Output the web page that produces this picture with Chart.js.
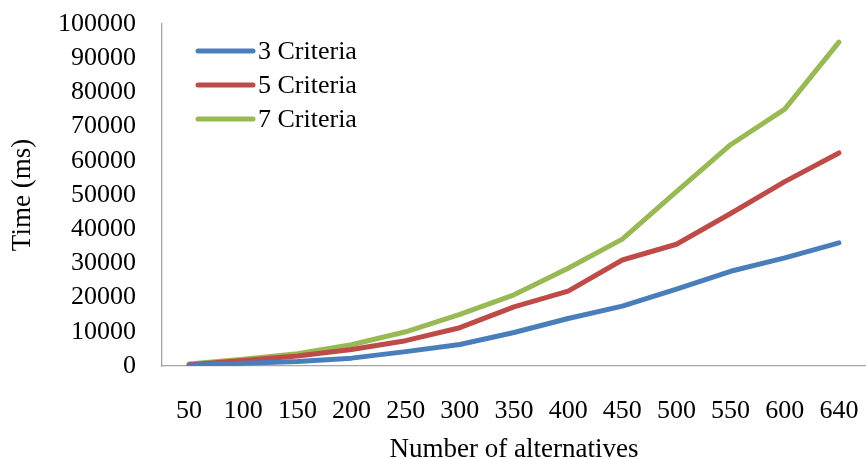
<!DOCTYPE html>
<html>
<head>
<meta charset="utf-8">
<script src="https://cdn.jsdelivr.net/npm/chart.js@4.4.0/dist/chart.umd.min.js"></script>
<style>
  html, body { margin: 0; padding: 0; background: #fff; }
  #wrap { width: 866px; height: 459px; }
</style>
</head>
<body>
<div id="wrap"><canvas id="time-chart"></canvas></div>
<script>
var alternatives = ["50", "100", "150", "200", "250", "300", "350", "400", "450", "500", "550", "600", "640"];
var criteria3 = [200, 800, 1300, 2300, 4200, 6300, 9800, 13900, 17500, 22500, 27700, 31600, 36000];
var criteria5 = [400, 1600, 2900, 4800, 7400, 11200, 17300, 21900, 31000, 35600, 44600, 53900, 62300];
var criteria7 = [600, 2000, 3600, 6200, 10000, 15100, 20800, 28600, 37100, 51000, 64700, 75100, 94700];
var yTicks = [0, 10000, 20000, 30000, 40000, 50000, 60000, 70000, 80000, 90000, 100000];

var serif = "'Liberation Serif', 'Times New Roman', serif";

// legend drawn inside the plot, top left
var insideLegend = {
  id: "insideLegend",
  afterDraw: function (chart) {
    var ctx = chart.ctx;
    var x0 = chart.chartArea.left + 36;
    var y0 = chart.chartArea.top + 27;
    ctx.save();
    ctx.font = "26px " + serif;
    ctx.textBaseline = "middle";
    ctx.lineCap = "round";
    chart.data.datasets.forEach(function (ds, i) {
      var y = y0 + i * 34;
      ctx.strokeStyle = ds.borderColor;
      ctx.lineWidth = 5;
      ctx.beginPath();
      ctx.moveTo(x0, y);
      ctx.lineTo(x0 + 55, y);
      ctx.stroke();
      ctx.fillStyle = "#000";
      ctx.fillText(ds.label, x0 + 60, y + 1);
    });
    ctx.restore();
  }
};

var ctx = document.getElementById("time-chart").getContext("2d");
var myChart = new Chart(ctx, {
  type: "line",
  data: {
    labels: alternatives,
    datasets: [{
        label: "3 Criteria",
        data: criteria3,
        borderColor: "#4a7ebb",
        backgroundColor: "#4a7ebb"
      },
      {
        label: "5 Criteria",
        data: criteria5,
        borderColor: "#be4b48",
        backgroundColor: "#be4b48"
      },
      {
        label: "7 Criteria",
        data: criteria7,
        borderColor: "#98b954",
        backgroundColor: "#98b954"
      }
    ]
  },
  options: {
    responsive: true,
    maintainAspectRatio: false,
    animation: false,
    layout: { padding: { top: 24, right: 0, left: 0, bottom: 0 } },
    elements: {
      line: { borderWidth: 5, tension: 0, borderCapStyle: "round", borderJoinStyle: "round" },
      point: { radius: 0 }
    },
    plugins: {
      legend: { display: false },
      tooltip: { enabled: false }
    },
    scales: {
      x: {
        offset: true,
        grid: { display: false, drawTicks: false },
        border: { display: true, color: "#a6a6a6", width: 1.3 },
        ticks: { color: "#000", font: { family: serif, size: 26 }, padding: 30, maxRotation: 0, autoSkip: false },
        title: { display: true, text: "Number of alternatives", color: "#000", font: { family: serif, size: 27, lineHeight: 0.7 }, padding: 0 },
        afterFit: function (scale) {
          scale.height = 93;
          scale.paddingLeft = 0;
          scale.paddingRight = 0;
        }
      },
      y: {
        min: 0,
        max: 100000,
        afterBuildTicks: function (scale) {
          scale.ticks = yTicks.map(function (v) { return { value: v }; });
        },
        grid: { display: false, drawTicks: false },
        border: { display: true, color: "#a6a6a6", width: 1.3 },
        ticks: {
          color: "#000",
          font: { family: serif, size: 26 },
          padding: 26,
          autoSkip: false,
          callback: function (v) { return String(v); }
        },
        title: { display: true, text: "Time (ms)", color: "#000", font: { family: serif, size: 27, lineHeight: 1.7 }, padding: 0 },
        afterFit: function (scale) {
          scale.width = 162;
          scale.paddingTop = 0;
          scale.paddingBottom = 0;
        }
      }
    }
  },
  plugins: [insideLegend]
});
</script>
</body>
</html>
